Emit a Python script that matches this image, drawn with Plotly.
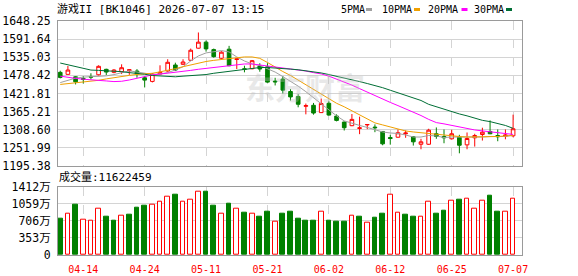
import plotly.graph_objects as go

# ---------------- data ----------------
dates = ["04-09","04-10","04-13","04-14","04-15","04-16","04-17","04-20","04-21","04-22",
         "04-23","04-24","04-27","04-28","04-29","04-30","05-06","05-07","05-08","05-11",
         "05-12","05-13","05-14","05-15","05-18","05-19","05-20","05-21","05-22","05-25",
         "05-26","05-27","05-28","05-29","06-01","06-02","06-03","06-04","06-05","06-08",
         "06-09","06-10","06-11","06-12","06-15","06-16","06-17","06-18","06-22","06-23",
         "06-24","06-25","06-26","06-29","06-30","07-01","07-02","07-03","07-06","07-07"]

opens = [1487.8,1481.6,1474.0,1469.0,1474.5,1480.3,1497.3,1487.9,1489.8,1493.0,
         1492.0,1470.9,1459.6,1482.5,1492.0,1510.8,1513.0,1525.6,1563.3,1582.2,
         1558.9,1531.9,1560.2,1528.0,1499.2,1499.2,1507.7,1505.0,1460.5,1466.8,
         1428.1,1412.4,1381.9,1385.0,1362.1,1391.3,1351.4,1332.5,1321.2,1312.7,
         1323.7,1316.8,1303.3,1284.4,1285.3,1296.0,1286.6,1263.3,1263.3,1296.0,
         1287.5,1280.3,1285.3,1261.4,1283.4,1293.8,1303.3,1290.6,1288.8,1289.7]
highs = [1492.9,1507.7,1476.2,1476.0,1485.0,1509.9,1499.2,1498.0,1513.0,1497.0,
         1498.0,1476.2,1485.6,1509.9,1528.8,1518.0,1528.8,1562.1,1612.4,1587.3,
         1562.1,1554.0,1570.6,1531.0,1508.6,1526.5,1516.2,1516.2,1470.9,1476.2,
         1435.3,1419.6,1390.4,1392.3,1406.1,1397.6,1356.7,1334.7,1357.7,1349.5,
         1325.3,1325.3,1303.3,1292.8,1309.5,1306.4,1288.5,1280.3,1311.7,1315.8,
         1309.5,1308.5,1292.8,1300.1,1296.0,1314.9,1337.8,1309.5,1309.5,1355.7]
lows = [1469.0,1481.6,1450.1,1453.0,1466.0,1478.0,1479.4,1485.0,1482.5,1480.0,
        1471.0,1440.7,1456.4,1481.0,1490.0,1492.0,1511.0,1523.4,1562.0,1552.6,
        1533.8,1529.7,1507.0,1498.2,1487.9,1497.3,1489.8,1455.2,1447.0,1421.8,
        1399.8,1378.7,1356.7,1355.7,1361.0,1352.6,1334.7,1306.3,1320.0,1294.8,
        1310.5,1301.0,1260.2,1262.0,1284.0,1283.5,1259.2,1247.6,1261.4,1280.3,
        1266.4,1278.0,1235.0,1247.6,1256.0,1274.9,1294.8,1272.7,1278.8,1285.3]
closes = [1472.1,1495.1,1458.3,1466.0,1473.0,1506.7,1488.8,1495.1,1502.3,1496.0,
          1483.5,1463.6,1482.5,1487.9,1519.3,1495.1,1520.2,1557.0,1582.2,1561.1,
          1536.9,1550.8,1508.6,1530.0,1497.3,1524.3,1498.2,1457.4,1458.3,1432.2,
          1411.1,1388.2,1383.8,1360.8,1390.4,1354.5,1337.8,1314.9,1341.0,1314.5,
          1325.0,1314.9,1264.6,1281.2,1299.2,1298.3,1270.9,1270.9,1307.3,1287.5,
          1283.4,1296.0,1260.2,1281.2,1290.6,1301.0,1296.0,1286.6,1291.9,1311.7]

ma5 = [1455.8,1463.6,1469.9,1473.1,1473.7,1474.6,1476.8,1480.9,1487.2,1492.6,
       1488.8,1485.0,1481.6,1482.5,1487.2,1495.1,1505.5,1523.4,1539.1,1548.6,
       1553.3,1555.8,1551.7,1536.0,1523.4,1514.0,1509.2,1499.8,1488.8,1474.6,
       1460.5,1444.8,1427.5,1408.6,1388.2,1369.3,1352.0,1336.3,1328.4,1322.1,
       1315.8,1307.9,1301.7,1298.5,1297.0,1292.2,1285.9,1285.9,1290.7,1289.1,
       1284.4,1285.9,1285.9,1284.4,1284.4,1285.9,1287.5,1287.5,1287.5,1291.6]
ma10 = [1450.1,1452.6,1454.8,1457.3,1460.2,1463.0,1467.4,1471.5,1475.6,1478.4,
        1481.3,1483.2,1485.0,1489.4,1493.5,1499.5,1505.5,1511.1,1517.1,1521.8,
        1525.3,1527.8,1530.3,1534.1,1536.0,1536.0,1531.6,1518.7,1503.6,1490.4,
        1478.1,1463.6,1449.2,1435.3,1419.6,1405.5,1391.3,1380.3,1367.7,1353.6,
        1342.6,1330.0,1323.7,1316.8,1311.1,1304.8,1301.7,1299.2,1297.0,1293.8,
        1290.7,1289.1,1287.5,1285.9,1285.9,1285.9,1286.6,1287.5,1289.1,1290.7]
ma20 = [1476.0,1472.0,1469.0,1466.5,1464.0,1462.5,1461.0,1459.0,1460.0,1464.0,
        1470.0,1476.0,1480.0,1482.5,1485.0,1488.0,1491.0,1494.0,1497.5,1500.5,
        1503.0,1506.0,1509.0,1512.0,1514.0,1514.0,1511.0,1508.0,1504.0,1502.0,
        1499.0,1495.0,1492.0,1487.0,1483.0,1476.0,1467.0,1458.0,1448.0,1437.0,
        1426.0,1414.0,1404.0,1394.0,1384.0,1374.0,1362.0,1353.0,1341.0,1331.0,
        1327.0,1322.0,1317.0,1312.0,1308.0,1305.0,1302.0,1299.0,1296.5,1294.0]
ma30 = [1517.0,1512.0,1506.0,1500.0,1495.0,1494.0,1493.0,1492.0,1490.0,1487.0,
        1485.0,1482.0,1478.0,1476.0,1474.0,1474.0,1476.0,1477.0,1479.0,1481.0,
        1485.0,1488.0,1491.0,1495.0,1499.0,1502.0,1503.0,1503.0,1502.0,1500.0,
        1498.0,1496.0,1493.0,1490.0,1486.0,1481.0,1476.0,1471.0,1465.0,1459.0,
        1453.0,1447.0,1440.0,1432.0,1424.0,1416.0,1408.0,1400.0,1388.0,1380.0,
        1373.0,1366.0,1358.0,1352.0,1345.0,1338.0,1334.0,1329.0,1322.0,1313.0]

# volume in 万 (10k)
volume = [741,857,1047,734,714,959,782,700,816,843,
          986,1027,1040,1102,1210,1251,1102,1142,1306,1312,
          1027,857,1068,959,884,857,802,904,694,864,
          904,741,700,700,898,700,680,680,816,782,
          673,762,864,1244,877,843,782,782,1102,864,
          925,1122,1149,1163,959,1122,1231,904,898,1162.2459]
vol_dir = [-1,1,-1,1,1,1,-1,-1,1,-1,
           -1,-1,1,1,1,-1,1,1,1,-1,
           -1,1,-1,1,-1,1,-1,-1,1,-1,
           -1,-1,-1,-1,1,-1,-1,-1,1,-1,
           1,-1,-1,1,1,-1,-1,1,1,-1,
           -1,1,-1,1,1,1,-1,-1,1,1]

tick_dates = ["04-14","04-24","05-11","05-21","06-02","06-12","06-25","07-07"]
price_ticks = [1195.38,1251.99,1308.60,1365.21,1421.81,1478.42,1535.03,1591.64,1648.25]
vol_ticks = [0,353,706,1059,1412]
vol_tick_text = ["0","353万","706万","1059万","1412万"]
title_text = "游戏II [BK1046] 2026-07-07 13:15"
vol_label = "成交量:11622459"
ma_names = ["5PMA","10PMA","20PMA","30PMA"]

# ---------------- styles ----------------
RED = "#ff0000"
GREEN = "#008000"
ma_colors = ["#a0a0a0", "#f0a000", "#ff00ff", "#006e35"]
W, H = 578, 276
ML, MR, MT, MB = 58, 56, 21, 21
PW, PH = W - ML - MR, H - MT - MB

def px(x):
    return (x - ML) / PW

def py(y):
    return (H - MB - y) / PH

price_bottom = 166
vol_top = 186.7

fig = go.Figure()

fig.add_trace(go.Candlestick(
    x=dates, open=opens, high=highs, low=lows, close=closes,
    increasing=dict(line=dict(color=RED, width=1), fillcolor="#ffffff"),
    decreasing=dict(line=dict(color=GREEN, width=1), fillcolor=GREEN),
    whiskerwidth=0, xaxis="x", yaxis="y", showlegend=False, hoverinfo="skip"))

for name, vals, col in zip(ma_names, [ma5, ma10, ma20, ma30], ma_colors):
    fig.add_trace(go.Scatter(x=dates, y=vals, mode="lines", name=name,
                             line=dict(color=col, width=1), xaxis="x", yaxis="y",
                             showlegend=False, hoverinfo="skip"))

fig.add_trace(go.Bar(
    x=dates, y=volume, xaxis="x2", yaxis="y2", width=0.62,
    marker=dict(color=["#ffffff" if d > 0 else GREEN for d in vol_dir],
                line=dict(color=[RED if d > 0 else GREEN for d in vol_dir], width=1)),
    showlegend=False, hoverinfo="skip"))

xr = [-0.29, 60.16]
mono = "DejaVu Sans Mono, Noto Sans CJK SC"
grid = "#d4d4d4"
frame = "#9a9a9a"
clear = "rgba(0,0,0,0)"

fig.update_layout(
    width=W, height=H,
    margin=dict(l=ML, r=MR, t=MT, b=MB, pad=0, autoexpand=False),
    paper_bgcolor="#ffffff", plot_bgcolor="#ffffff",
    bargap=0, boxgap=0.32,
    font=dict(family=mono, size=11, color="#000000"),
    xaxis=dict(type="category", range=xr, domain=[0, 1], anchor="y", automargin=False,
               rangeslider=dict(visible=False), tickvals=tick_dates, showticklabels=False,
               showgrid=True, gridcolor=grid, griddash="dash", gridwidth=1,
               showline=True, mirror=True, linecolor=frame, linewidth=1,
               ticks="", zeroline=False),
    yaxis=dict(range=[price_ticks[0], price_ticks[-1]], domain=[py(price_bottom), 1],
               anchor="x", automargin=False,
               tickvals=price_ticks, ticktext=[f"{v:.2f}" for v in price_ticks],
               showgrid=True, gridcolor=grid, gridwidth=1, zeroline=False,
               showline=True, mirror=True, linecolor=frame, linewidth=1,
               ticks="outside", ticklen=4, tickcolor=clear,
               tickfont=dict(family=mono, size=11.5, color="#000000")),
    xaxis2=dict(type="category", range=xr, domain=[0, 1], anchor="y2", automargin=False,
                tickvals=tick_dates, ticktext=tick_dates,
                showgrid=True, gridcolor=grid, griddash="dash", gridwidth=1,
                showline=True, mirror=True, linecolor=frame, linewidth=1,
                ticks="outside", ticklen=5, tickcolor=clear, zeroline=False,
                tickfont=dict(family=mono, size=10, color=RED)),
    yaxis2=dict(range=[0, 1412], domain=[0, py(vol_top)], anchor="x2", automargin=False,
                tickvals=vol_ticks, ticktext=vol_tick_text,
                showgrid=True, gridcolor=grid, gridwidth=1, zeroline=False,
                showline=True, mirror=True, linecolor=frame, linewidth=1,
                ticks="outside", ticklen=4, tickcolor=clear,
                tickfont=dict(family=mono, size=11.5, color="#000000")),
)

ann = []
ann.append(dict(text=title_text, x=px(55), y=py(10), xref="paper", yref="paper",
                xanchor="left", yanchor="middle", showarrow=False,
                font=dict(family=mono, size=11, color="#000000")))
ann.append(dict(text=vol_label, x=px(57), y=py(177), xref="paper", yref="paper",
                xanchor="left", yanchor="middle", showarrow=False,
                font=dict(family=mono, size=11, color="#000000")))
leg_text_x = [339, 380, 425.7, 471.7]
leg_sw_x = [(366, 372), (414, 420), (461.5, 467.5), (506, 512)]
shapes = []
for name, col, tx, (s0, s1) in zip(ma_names, ma_colors, leg_text_x, leg_sw_x):
    ann.append(dict(text=name, x=px(tx), y=py(10), xref="paper", yref="paper",
                    xanchor="left", yanchor="middle", showarrow=False,
                    font=dict(family=mono, size=10, color="#000000")))
    shapes.append(dict(type="rect", xref="paper", yref="paper",
                       x0=px(s0), x1=px(s1), y0=py(11), y1=py(8),
                       fillcolor=col, line=dict(width=0)))
ann.append(dict(text="<b>东方财富</b>", x=px(305), y=py(86), xref="paper", yref="paper",
                xanchor="center", yanchor="middle", showarrow=False,
                font=dict(family="Noto Sans CJK SC", size=30, color="rgba(190,190,190,0.35)")))
fig.update_layout(annotations=ann, shapes=shapes)

fig.write_html("out.html")
